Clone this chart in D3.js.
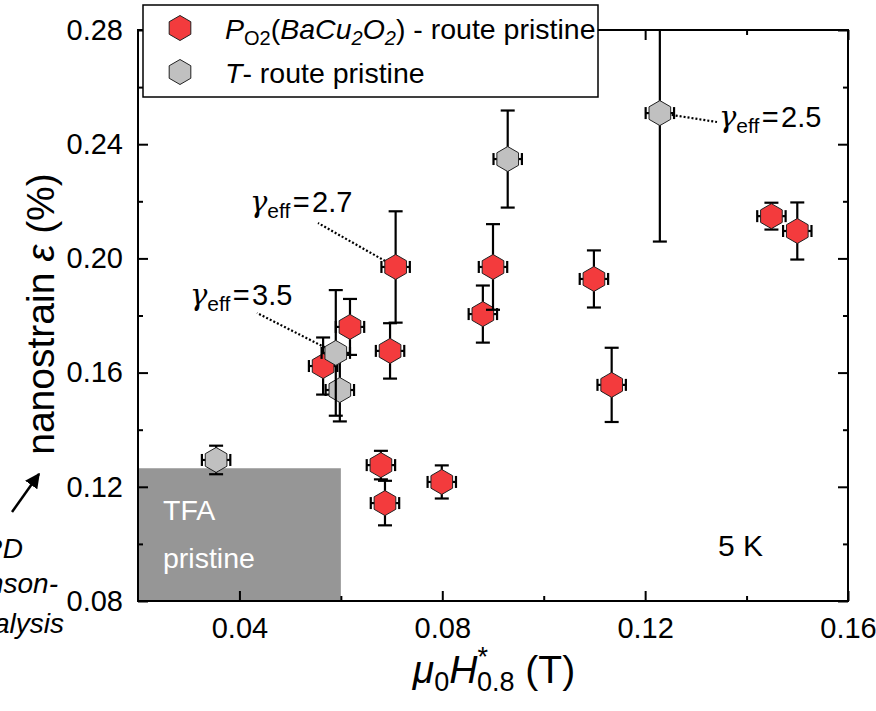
<!DOCTYPE html>
<html>
<head>
<meta charset="utf-8">
<script src="https://cdn.jsdelivr.net/npm/d3@7/dist/d3.min.js"></script>
<style>
  html, body { margin: 0; padding: 0; background: #fff; }
  svg { display: block; font-family: "Liberation Sans", Arial, sans-serif; }
</style>
</head>
<body>
<svg id="chart" width="876" height="711"></svg>
<script>
// P_O2(BaCu2O2)-route pristine samples: field (T), nanostrain (%), errors
const redX    = [0.0565, 0.0618, 0.0697, 0.0679, 0.0687, 0.0799, 0.0880, 0.0900, 0.0708, 0.1099, 0.1134, 0.1449, 0.1500];
const redY    = [0.1623, 0.1760, 0.1676, 0.1276, 0.1143, 0.1217, 0.1805, 0.1970, 0.1970, 0.1928, 0.1557, 0.2148, 0.2096];
const redErrY = [0.0100, 0.0098, 0.0097, 0.0050, 0.0078, 0.0058, 0.0100, 0.0150, 0.0195, 0.0100, 0.0130, 0.0047, 0.0100];
const redErrX = [0.0028, 0.0028, 0.0028, 0.0028, 0.0028, 0.0028, 0.0028, 0.0028, 0.0028, 0.0028, 0.0028, 0.0028, 0.0028];

// T-route pristine samples
const greyX    = [0.0354, 0.0598, 0.0590, 0.0929, 0.1229];
const greyY    = [0.1294, 0.1539, 0.1669, 0.2348, 0.2509];
const greyErrY = [0.0050, 0.0110, 0.0220, 0.0170, 0.0450];
const greyErrX = [0.0028, 0.0028, 0.0028, 0.0028, 0.0028];

// axis ticks
const xMajorTicks = [0.04, 0.08, 0.12, 0.16];
const xMinorTicks = [0.06, 0.10, 0.14];
const yMajorTicks = [0.08, 0.12, 0.16, 0.20, 0.24, 0.28];
const yMinorTicks = [0.10, 0.14, 0.18, 0.22, 0.26];

// TFA pristine reference region (x range, upper strain bound)
const tfaX = [0.02, 0.06];
const tfaY = [0.08, 0.1265];

// effective gamma annotations: [x, y] of the labelled point
const gammaLabels = [
  { text: "2.7", px: 0.0708, py: 0.1970 },
  { text: "3.5", px: 0.0590, py: 0.1669 },
  { text: "2.5", px: 0.1229, py: 0.2509 }
];

const svg = d3.select("#chart");
const m = { left: 138, right: 848, top: 30, bottom: 601 };

const x = d3.scaleLinear().domain([0.02, 0.16]).range([m.left, m.right]);
const y = d3.scaleLinear().domain([0.08, 0.28]).range([m.bottom, m.top]);

const fmt = d3.format(".2f");

// clip region for the plot area
const defs = svg.append("defs");
defs.append("clipPath").attr("id", "plotClip")
  .append("rect")
  .attr("x", m.left).attr("y", m.top)
  .attr("width", m.right - m.left).attr("height", m.bottom - m.top);

// TFA pristine shaded block
svg.append("rect")
  .attr("x", x(tfaX[0])).attr("y", y(tfaY[1]))
  .attr("width", x(tfaX[1]) - x(tfaX[0]))
  .attr("height", y(tfaY[0]) - y(tfaY[1]))
  .attr("fill", "#969696");

svg.append("text").attr("x", x(tfaX[0]) + 25).attr("y", 520)
  .attr("fill", "#fff").attr("font-size", 28.5).text("TFA");
svg.append("text").attr("x", x(tfaX[0]) + 25).attr("y", 568)
  .attr("fill", "#fff").attr("font-size", 28.5).text("pristine");

// axes with inward ticks
function styleAxis(g) {
  g.select(".domain").remove();
  g.selectAll(".tick line").attr("stroke", "#000").attr("stroke-width", 2);
  g.selectAll(".tick text").attr("font-size", 29).attr("fill", "#000")
    .attr("font-family", "Liberation Sans, Arial, sans-serif");
}

svg.append("g").attr("transform", `translate(0,${m.bottom})`)
  .call(d3.axisBottom(x).tickValues(xMajorTicks).tickFormat(fmt).tickSize(-10).tickPadding(16))
  .call(styleAxis);
svg.append("g").attr("transform", `translate(0,${m.bottom})`)
  .call(d3.axisBottom(x).tickValues(xMinorTicks).tickFormat("").tickSize(-5))
  .call(styleAxis);
svg.append("g").attr("transform", `translate(0,${m.top})`)
  .call(d3.axisTop(x).tickValues(xMajorTicks).tickFormat("").tickSize(-10))
  .call(styleAxis);
svg.append("g").attr("transform", `translate(0,${m.top})`)
  .call(d3.axisTop(x).tickValues(xMinorTicks).tickFormat("").tickSize(-5))
  .call(styleAxis);

svg.append("g").attr("transform", `translate(${m.left},0)`)
  .call(d3.axisLeft(y).tickValues(yMajorTicks).tickFormat(fmt).tickSize(-10).tickPadding(15))
  .call(styleAxis);
svg.append("g").attr("transform", `translate(${m.left},0)`)
  .call(d3.axisLeft(y).tickValues(yMinorTicks).tickFormat("").tickSize(-5))
  .call(styleAxis);
svg.append("g").attr("transform", `translate(${m.right},0)`)
  .call(d3.axisRight(y).tickValues(yMajorTicks).tickFormat("").tickSize(-10))
  .call(styleAxis);
svg.append("g").attr("transform", `translate(${m.right},0)`)
  .call(d3.axisRight(y).tickValues(yMinorTicks).tickFormat("").tickSize(-5))
  .call(styleAxis);

// frame
svg.append("rect")
  .attr("x", m.left).attr("y", m.top)
  .attr("width", m.right - m.left).attr("height", m.bottom - m.top)
  .attr("fill", "none").attr("stroke", "#000").attr("stroke-width", 2);

// hexagon marker path (pointy top)
function hexPath(r) {
  const pts = d3.range(6).map(i => {
    const a = Math.PI / 3 * i - Math.PI / 2;
    return [r * Math.cos(a), r * Math.sin(a)];
  });
  return "M" + pts.map(p => p.join(",")).join("L") + "Z";
}

// effective gamma dotted leaders
const leaderEnds = [[318, 223], [257, 313], [717, 122]];
gammaLabels.forEach((g, i) => {
  svg.append("line")
    .attr("x1", x(g.px)).attr("y1", y(g.py))
    .attr("x2", leaderEnds[i][0]).attr("y2", leaderEnds[i][1])
    .attr("stroke", "#000").attr("stroke-width", 2.2).attr("stroke-dasharray", "2,2");
});

const plot = svg.append("g").attr("clip-path", "url(#plotClip)");

function drawSeries(xs, ys, exs, eys, fill) {
  xs.forEach((xv, i) => {
    const cx = x(xv), cy = y(ys[i]);
    const g = plot.append("g");
    const y0 = y(ys[i] - eys[i]), y1 = y(ys[i] + eys[i]);
    const x0 = x(xv - exs[i]), x1 = x(xv + exs[i]);
    g.append("line").attr("x1", cx).attr("x2", cx).attr("y1", y0).attr("y2", y1);
    g.append("line").attr("x1", cx - 7).attr("x2", cx + 7).attr("y1", y0).attr("y2", y0);
    g.append("line").attr("x1", cx - 7).attr("x2", cx + 7).attr("y1", y1).attr("y2", y1);
    g.append("line").attr("x1", x0).attr("x2", x1).attr("y1", cy).attr("y2", cy);
    g.append("line").attr("x1", x0).attr("x2", x0).attr("y1", cy - 6).attr("y2", cy + 6);
    g.append("line").attr("x1", x1).attr("x2", x1).attr("y1", cy - 6).attr("y2", cy + 6);
    g.selectAll("line").attr("stroke", "#000").attr("stroke-width", 2.2);
    g.append("path").attr("d", hexPath(12.5))
      .attr("transform", `translate(${cx},${cy})`)
      .attr("fill", fill).attr("stroke", "#222").attr("stroke-width", 1);
  });
}

drawSeries(redX, redY, redErrX, redErrY, "#f33b3d");
drawSeries(greyX, greyY, greyErrX, greyErrY, "#c0c0c0");

// gamma labels
const gammaPos = [[250, 212], [190, 305], [719, 127]];
gammaLabels.forEach((g, i) => {
  const t = svg.append("text").attr("x", gammaPos[i][0]).attr("y", gammaPos[i][1])
    .attr("font-size", 29).attr("fill", "#000");
  t.append("tspan").attr("font-style", "italic").attr("font-family", "DejaVu Serif, serif").text("γ");
  t.append("tspan").attr("font-size", 21).attr("dy", 6).text("eff");
  t.append("tspan").attr("dy", -6).text("\u200A=\u200A" + g.text);
});

// temperature
svg.append("text").attr("x", 718).attr("y", 556).attr("font-size", 30).text("5 K");

// axis titles
const xt = svg.append("text").attr("x", 494).attr("y", 683)
  .attr("text-anchor", "middle").attr("font-size", 39).attr("fill", "#000");
xt.append("tspan").attr("font-style", "italic").text("μ");
xt.append("tspan").attr("font-size", 27).attr("dy", 8).text("0");
xt.append("tspan").attr("font-style", "italic").attr("dy", -8).text("H");
xt.append("tspan").attr("font-size", 27).attr("dy", -17).text("*");
xt.append("tspan").attr("font-size", 27).attr("dx", -11).attr("dy", 25).text("0.8");
xt.append("tspan").attr("dy", -8).text(" (T)");

const yt = svg.append("text")
  .attr("transform", "translate(54,314) rotate(-90)")
  .attr("text-anchor", "middle").attr("font-size", 39).attr("fill", "#000");
yt.append("tspan").text("nanostrain ");
yt.append("tspan").attr("font-style", "italic").text("ε");
yt.append("tspan").text(" (%)");

// side note pointing at the axis
const note = svg.append("g").attr("font-size", 28).attr("font-style", "italic").attr("text-anchor", "end");
note.append("text").attr("x", 23).attr("y", 558).text("XRD");
note.append("text").attr("x", 58).attr("y", 593).text("Williamson-");
note.append("text").attr("x", 64).attr("y", 633).text("Hall analysis");

defs.append("marker").attr("id", "arrowHead")
  .attr("viewBox", "0 0 10 10").attr("refX", 9).attr("refY", 5)
  .attr("markerWidth", 6).attr("markerHeight", 6).attr("orient", "auto")
  .append("path").attr("d", "M0,0L10,5L0,10Z").attr("fill", "#000");
svg.append("line").attr("x1", 12).attr("y1", 512).attr("x2", 39).attr("y2", 474)
  .attr("stroke", "#000").attr("stroke-width", 2.5).attr("marker-end", "url(#arrowHead)");

// legend
const lg = svg.append("g");
lg.append("rect").attr("x", 143).attr("y", 5).attr("width", 455).attr("height", 92)
  .attr("fill", "#fff").attr("stroke", "#000").attr("stroke-width", 1.5);
lg.append("path").attr("d", hexPath(12.5)).attr("transform", "translate(180,28)")
  .attr("fill", "#f33b3d").attr("stroke", "#222");
lg.append("path").attr("d", hexPath(12.5)).attr("transform", "translate(180,72)")
  .attr("fill", "#c0c0c0").attr("stroke", "#222");

const l1 = lg.append("text").attr("x", 225).attr("y", 39).attr("font-size", 28.5).attr("fill", "#000");
l1.append("tspan").attr("font-style", "italic").text("P");
l1.append("tspan").attr("font-size", 20).attr("dy", 6).text("O2");
l1.append("tspan").attr("dy", -6).text("(");
l1.append("tspan").attr("font-style", "italic").text("BaCu");
l1.append("tspan").attr("font-style", "italic").attr("font-size", 20).attr("dy", 6).text("2");
l1.append("tspan").attr("font-style", "italic").attr("dy", -6).text("O");
l1.append("tspan").attr("font-style", "italic").attr("font-size", 20).attr("dy", 6).text("2");
l1.append("tspan").attr("dy", -6).text(") - route pristine");

const l2 = lg.append("text").attr("x", 225).attr("y", 83).attr("font-size", 28.5).attr("fill", "#000");
l2.append("tspan").attr("font-style", "italic").text("T");
l2.append("tspan").text("- route pristine");
</script>
</body>
</html>
